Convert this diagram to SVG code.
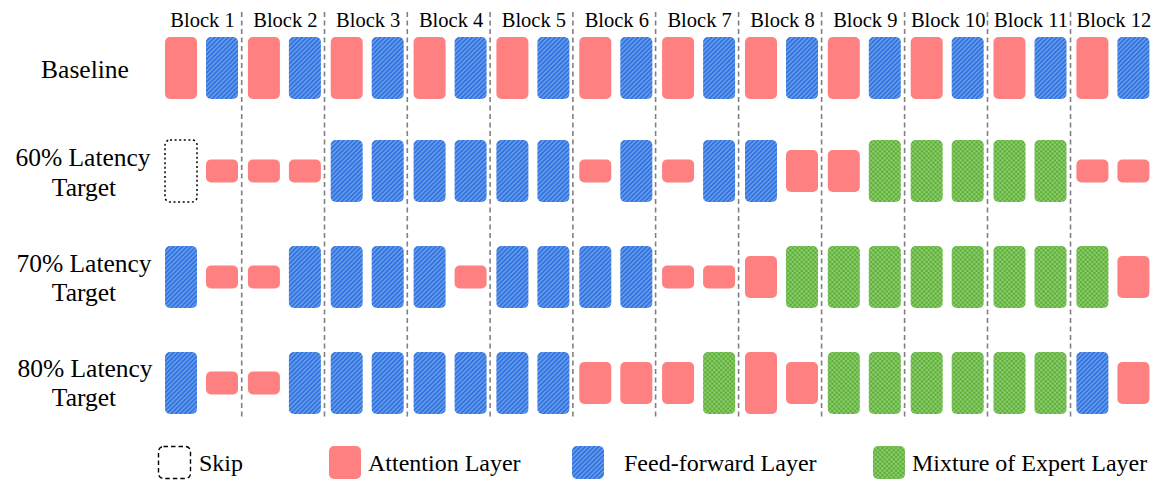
<svg xmlns="http://www.w3.org/2000/svg" width="1166" height="482" viewBox="0 0 1166 482">
  <style>
    text { font-family: "Liberation Serif", "Times New Roman", Times, Tinos, "Noto Serif", "Nimbus Roman", "Nimbus Roman No9 L", FreeSerif, "DejaVu Serif", serif; fill: #000; }
    .blk { font-size: 20.5px; text-anchor: middle; }
    .row { font-size: 25.5px; text-anchor: middle; }
    .leg { font-size: 24px; }
    .attn { fill: #FF8080; }
    .ffn { fill: url(#hatch); }
    .moe { fill: url(#cross); }
    .skip { fill: none; stroke: #000; stroke-width: 1.5; stroke-dasharray: 2 2.6; }
    .skipleg { fill: none; stroke: #000; stroke-width: 1.4; stroke-dasharray: 4.5 3; }
    .sep { stroke: #808080; stroke-width: 1.6; stroke-dasharray: 5 3.5; }
  </style>
  <defs>
    <!-- feed-forward fill: blue with light diagonal stripes -->
    <pattern id="hatch" patternUnits="userSpaceOnUse" width="3.2" height="3.2" patternTransform="rotate(45)">
      <rect width="3.2" height="3.2" fill="#2E73E0"/>
      <line x1="1.6" y1="0" x2="1.6" y2="3.2" stroke="#ffffff" stroke-opacity="0.55" stroke-width="0.8"/>
    </pattern>
    <!-- mixture-of-experts fill: green with light cross-hatch -->
    <pattern id="cross" patternUnits="userSpaceOnUse" width="3.2" height="3.2" patternTransform="rotate(45)">
      <rect width="3.2" height="3.2" fill="#55AE2C"/>
      <line x1="1.6" y1="0" x2="1.6" y2="3.2" stroke="#ffffff" stroke-opacity="0.45" stroke-width="0.7"/>
      <line x1="0" y1="1.6" x2="3.2" y2="1.6" stroke="#ffffff" stroke-opacity="0.45" stroke-width="0.7"/>
    </pattern>
    <rect id="aT" class="attn" width="32" height="62" rx="5"/>
    <rect id="aM" class="attn" width="32" height="42" rx="5"/>
    <rect id="aS" class="attn" width="32" height="23" rx="5"/>
    <rect id="fT" class="ffn" width="32" height="62" rx="5"/>
    <rect id="mT" class="moe" width="32" height="62" rx="5"/>
    <rect id="sT" class="skip" width="32" height="62" rx="5"/>
  </defs>

  <!-- block headers -->
  <g id="headers">
    <text class="blk" x="202.5" y="26.5">Block 1</text>
    <text class="blk" x="285.4" y="26.5">Block 2</text>
    <text class="blk" x="368.2" y="26.5">Block 3</text>
    <text class="blk" x="451.1" y="26.5">Block 4</text>
    <text class="blk" x="533.9" y="26.5">Block 5</text>
    <text class="blk" x="616.8" y="26.5">Block 6</text>
    <text class="blk" x="699.6" y="26.5">Block 7</text>
    <text class="blk" x="782.5" y="26.5">Block 8</text>
    <text class="blk" x="865.3" y="26.5">Block 9</text>
    <text class="blk" x="948.2" y="26.5">Block 10</text>
    <text class="blk" x="1031.0" y="26.5">Block 11</text>
    <text class="blk" x="1113.9" y="26.5">Block 12</text>
  </g>

  <!-- dashed block boundaries -->
  <g id="connectors">
    <line class="sep" x1="241.7" y1="12" x2="241.7" y2="419"/>
    <line class="sep" x1="324.5" y1="12" x2="324.5" y2="419"/>
    <line class="sep" x1="407.3" y1="12" x2="407.3" y2="419"/>
    <line class="sep" x1="490.1" y1="12" x2="490.1" y2="419"/>
    <line class="sep" x1="572.9" y1="12" x2="572.9" y2="419"/>
    <line class="sep" x1="655.6" y1="12" x2="655.6" y2="419"/>
    <line class="sep" x1="738.6" y1="12" x2="738.6" y2="419"/>
    <line class="sep" x1="821.6" y1="12" x2="821.6" y2="419"/>
    <line class="sep" x1="904.6" y1="12" x2="904.6" y2="419"/>
    <line class="sep" x1="987.5" y1="12" x2="987.5" y2="419"/>
    <line class="sep" x1="1070.5" y1="12" x2="1070.5" y2="419"/>
  </g>

  <!-- row labels -->
  <g id="labels">
    <text class="row" x="85" y="78">Baseline</text>
    <text class="row" x="83" y="166">60% Latency</text>
    <text class="row" x="84" y="196">Target</text>
    <text class="row" x="84" y="272">70% Latency</text>
    <text class="row" x="84" y="301">Target</text>
    <text class="row" x="85" y="377">80% Latency</text>
    <text class="row" x="84" y="406">Target</text>
  </g>

  <!-- baseline row -->
  <g id="row-baseline">
    <g id="base-b1"><use href="#aT" x="165" y="37"/><use href="#fT" x="206" y="37"/></g>
    <g id="base-b2"><use href="#aT" x="247.9" y="37"/><use href="#fT" x="288.9" y="37"/></g>
    <g id="base-b3"><use href="#aT" x="330.7" y="37"/><use href="#fT" x="371.7" y="37"/></g>
    <g id="base-b4"><use href="#aT" x="413.6" y="37"/><use href="#fT" x="454.6" y="37"/></g>
    <g id="base-b5"><use href="#aT" x="496.4" y="37"/><use href="#fT" x="537.4" y="37"/></g>
    <g id="base-b6"><use href="#aT" x="579.3" y="37"/><use href="#fT" x="620.3" y="37"/></g>
    <g id="base-b7"><use href="#aT" x="662.1" y="37"/><use href="#fT" x="703.1" y="37"/></g>
    <g id="base-b8"><use href="#aT" x="745" y="37"/><use href="#fT" x="786" y="37"/></g>
    <g id="base-b9"><use href="#aT" x="827.8" y="37"/><use href="#fT" x="868.8" y="37"/></g>
    <g id="base-b10"><use href="#aT" x="910.7" y="37"/><use href="#fT" x="951.7" y="37"/></g>
    <g id="base-b11"><use href="#aT" x="993.5" y="37"/><use href="#fT" x="1034.5" y="37"/></g>
    <g id="base-b12"><use href="#aT" x="1076.4" y="37"/><use href="#fT" x="1117.4" y="37"/></g>
  </g>

  <!-- 60% latency target row (centre y = 171) -->
  <g id="row-60">
    <g id="r60-b1"><use href="#sT" x="165" y="140"/><use href="#aS" x="206" y="159.5"/></g>
    <g id="r60-b2"><use href="#aS" x="247.9" y="159.5"/><use href="#aS" x="288.9" y="159.5"/></g>
    <g id="r60-b3"><use href="#fT" x="330.7" y="140"/><use href="#fT" x="371.7" y="140"/></g>
    <g id="r60-b4"><use href="#fT" x="413.6" y="140"/><use href="#fT" x="454.6" y="140"/></g>
    <g id="r60-b5"><use href="#fT" x="496.4" y="140"/><use href="#fT" x="537.4" y="140"/></g>
    <g id="r60-b6"><use href="#aS" x="579.3" y="159.5"/><use href="#fT" x="620.3" y="140"/></g>
    <g id="r60-b7"><use href="#aS" x="662.1" y="159.5"/><use href="#fT" x="703.1" y="140"/></g>
    <g id="r60-b8"><use href="#fT" x="745" y="140"/><use href="#aM" x="786" y="150"/></g>
    <g id="r60-b9"><use href="#aM" x="827.8" y="150"/><use href="#mT" x="868.8" y="140"/></g>
    <g id="r60-b10"><use href="#mT" x="910.7" y="140"/><use href="#mT" x="951.7" y="140"/></g>
    <g id="r60-b11"><use href="#mT" x="993.5" y="140"/><use href="#mT" x="1034.5" y="140"/></g>
    <g id="r60-b12"><use href="#aS" x="1076.4" y="159.5"/><use href="#aS" x="1117.4" y="159.5"/></g>
  </g>

  <!-- 70% latency target row (centre y = 277) -->
  <g id="row-70">
    <g id="r70-b1"><use href="#fT" x="165" y="246"/><use href="#aS" x="206" y="265.5"/></g>
    <g id="r70-b2"><use href="#aS" x="247.9" y="265.5"/><use href="#fT" x="288.9" y="246"/></g>
    <g id="r70-b3"><use href="#fT" x="330.7" y="246"/><use href="#fT" x="371.7" y="246"/></g>
    <g id="r70-b4"><use href="#fT" x="413.6" y="246"/><use href="#aS" x="454.6" y="265.5"/></g>
    <g id="r70-b5"><use href="#fT" x="496.4" y="246"/><use href="#fT" x="537.4" y="246"/></g>
    <g id="r70-b6"><use href="#fT" x="579.3" y="246"/><use href="#fT" x="620.3" y="246"/></g>
    <g id="r70-b7"><use href="#aS" x="662.1" y="265.5"/><use href="#aS" x="703.1" y="265.5"/></g>
    <g id="r70-b8"><use href="#aM" x="745" y="256"/><use href="#mT" x="786" y="246"/></g>
    <g id="r70-b9"><use href="#mT" x="827.8" y="246"/><use href="#mT" x="868.8" y="246"/></g>
    <g id="r70-b10"><use href="#mT" x="910.7" y="246"/><use href="#mT" x="951.7" y="246"/></g>
    <g id="r70-b11"><use href="#mT" x="993.5" y="246"/><use href="#mT" x="1034.5" y="246"/></g>
    <g id="r70-b12"><use href="#mT" x="1076.4" y="246"/><use href="#aM" x="1117.4" y="256"/></g>
  </g>

  <!-- 80% latency target row (centre y = 383) -->
  <g id="row-80">
    <g id="r80-b1"><use href="#fT" x="165" y="352"/><use href="#aS" x="206" y="371.5"/></g>
    <g id="r80-b2"><use href="#aS" x="247.9" y="371.5"/><use href="#fT" x="288.9" y="352"/></g>
    <g id="r80-b3"><use href="#fT" x="330.7" y="352"/><use href="#fT" x="371.7" y="352"/></g>
    <g id="r80-b4"><use href="#fT" x="413.6" y="352"/><use href="#fT" x="454.6" y="352"/></g>
    <g id="r80-b5"><use href="#fT" x="496.4" y="352"/><use href="#fT" x="537.4" y="352"/></g>
    <g id="r80-b6"><use href="#aM" x="579.3" y="362"/><use href="#aM" x="620.3" y="362"/></g>
    <g id="r80-b7"><use href="#aM" x="662.1" y="362"/><use href="#mT" x="703.1" y="352"/></g>
    <g id="r80-b8"><use href="#aT" x="745" y="352"/><use href="#aM" x="786" y="362"/></g>
    <g id="r80-b9"><use href="#mT" x="827.8" y="352"/><use href="#mT" x="868.8" y="352"/></g>
    <g id="r80-b10"><use href="#mT" x="910.7" y="352"/><use href="#mT" x="951.7" y="352"/></g>
    <g id="r80-b11"><use href="#mT" x="993.5" y="352"/><use href="#mT" x="1034.5" y="352"/></g>
    <g id="r80-b12"><use href="#fT" x="1076.4" y="352"/><use href="#aM" x="1117.4" y="362"/></g>
  </g>

  <!-- legend -->
  <g id="legend">
    <g id="leg-skip"><rect class="skipleg" x="158.5" y="446.5" width="32" height="32" rx="5"/><text class="leg" x="199" y="471">Skip</text></g>
    <g id="leg-attn"><rect class="attn" x="329" y="446" width="32" height="33" rx="5"/><text class="leg" x="368" y="471">Attention Layer</text></g>
    <g id="leg-ffn"><rect class="ffn" x="572" y="446" width="32" height="33" rx="5"/><text class="leg" x="624" y="471">Feed-forward Layer</text></g>
    <g id="leg-moe"><rect class="moe" x="873" y="446" width="32" height="33" rx="5"/><text class="leg" x="912" y="471">Mixture of Expert Layer</text></g>
  </g>
</svg>
